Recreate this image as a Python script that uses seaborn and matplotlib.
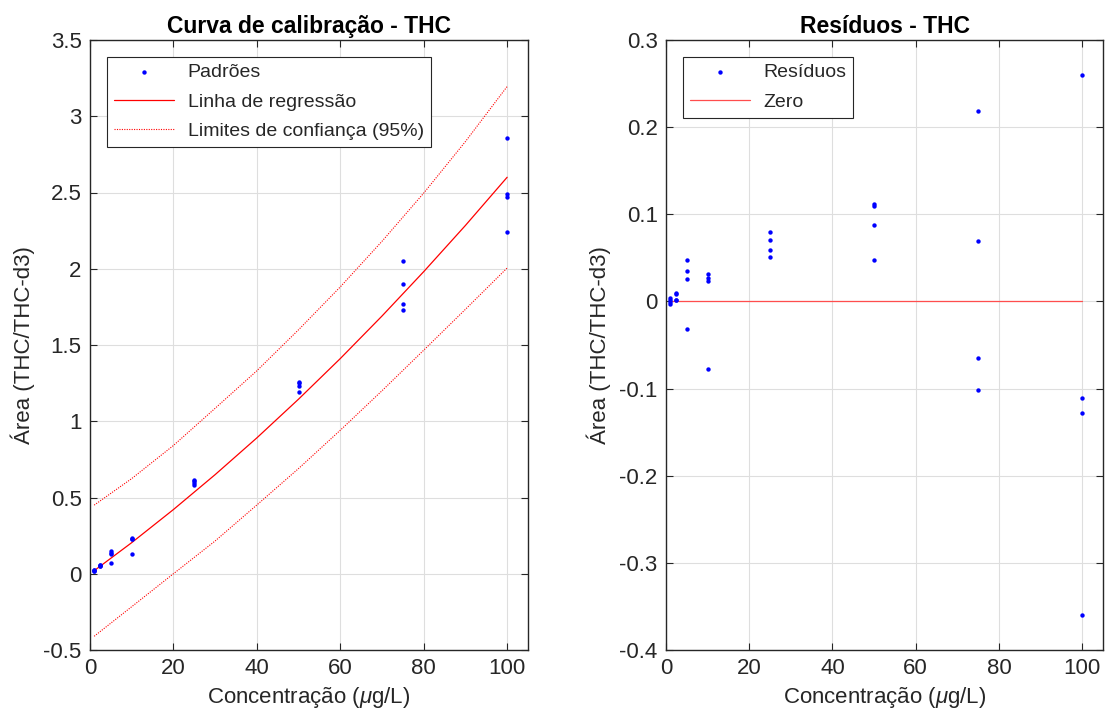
import numpy as np
import pandas as pd
import matplotlib
matplotlib.use("Agg")
import matplotlib.pyplot as plt
import seaborn as sns

# ---- data ----
conc_levels = [1, 2.5, 5, 10, 25, 50, 75, 100]
area_pts = [
    [0.024, 0.022, 0.019, 0.017],
    [0.060, 0.058, 0.052, 0.052],
    [0.148, 0.136, 0.127, 0.069],
    [0.236, 0.231, 0.228, 0.127],
    [0.614, 0.605, 0.593, 0.585],
    [1.257, 1.254, 1.233, 1.192],
    [2.052, 1.903, 1.769, 1.732],
    [2.860, 2.489, 2.472, 2.240],
]
resid_pts = [
    [0.004, 0.002, -0.001, -0.003],
    [0.010, 0.008, 0.002, 0.002],
    [0.047, 0.035, 0.026, -0.032],
    [0.032, 0.027, 0.024, -0.077],
    [0.080, 0.071, 0.059, 0.051],
    [0.112, 0.109, 0.088, 0.047],
    [0.218, 0.069, -0.065, -0.102],
    [0.260, -0.111, -0.128, -0.360],
]
curve_x = [1, 10, 20, 30, 40, 50, 60, 70, 80, 90, 100]
reg_fit = [0.020, 0.204, 0.421, 0.650, 0.891, 1.145, 1.411, 1.690, 1.981, 2.284, 2.600]
conf_upper = [0.450, 0.624, 0.841, 1.085, 1.331, 1.600, 1.881, 2.180, 2.496, 2.834, 3.195]
conf_lower = [-0.410, -0.216, 0.000, 0.215, 0.451, 0.690, 0.941, 1.200, 1.466, 1.734, 2.005]

left_yticks = [-0.5, 0, 0.5, 1, 1.5, 2, 2.5, 3, 3.5]
left_yticklabels = ["-0.5", "0", "0.5", "1", "1.5", "2", "2.5", "3", "3.5"]
right_yticks = [-0.4, -0.3, -0.2, -0.1, 0, 0.1, 0.2, 0.3]
right_yticklabels = ["-0.4", "-0.3", "-0.2", "-0.1", "0", "0.1", "0.2", "0.3"]
xticks = [0, 20, 40, 60, 80, 100]

# ---- build long tables ----
pts = pd.DataFrame({
    "conc": np.repeat(conc_levels, 4),
    "area": np.concatenate(area_pts),
    "resid": np.concatenate(resid_pts),
})
curves = pd.DataFrame({"x": curve_x, "fit": reg_fit, "up": conf_upper, "lo": conf_lower})
zero_df = pd.DataFrame({"x": [min(conc_levels), max(conc_levels)], "y": [0.0, 0.0]})

sns.set_style("whitegrid")
plt.rcParams["font.family"] = ["Liberation Sans", "DejaVu Sans"]
plt.rcParams["axes.unicode_minus"] = False
plt.rcParams["mathtext.fontset"] = "custom"
plt.rcParams["mathtext.it"] = "Liberation Sans:italic"
plt.rcParams["mathtext.rm"] = "Liberation Sans"
plt.rcParams["axes.axisbelow"] = True

fig = plt.figure(figsize=(11.09, 7.19), dpi=100)
W, H = 1109, 719
axL = fig.add_axes([90 / W, (H - 650) / H, 438 / W, 610 / H])
axR = fig.add_axes([666 / W, (H - 650) / H, 437 / W, 610 / H])

axc = "#262626"
FS = 16

def style(ax):
    ax.set_facecolor("white")
    ax.grid(True, color="#dedede", linewidth=0.8)
    for s in ax.spines.values():
        s.set_visible(True)
        s.set_color(axc)
        s.set_linewidth(1.0)
    ax.tick_params(direction="in", length=5, width=0.8, color=axc,
                   labelsize=FS, labelcolor=axc, top=True, right=True,
                   bottom=True, left=True, pad=6)
    ax.set_xlim(0, 105)
    ax.set_xticks(xticks)
    ax.set_xticklabels([str(t) for t in xticks])
    ax.set_xlabel(r"Concentração ($\mu$g/L)", fontsize=FS, color=axc, labelpad=4)
    ax.set_ylabel("Área (THC/THC-d3)", fontsize=FS, color=axc, labelpad=6)

leg_kw = dict(loc="upper left", bbox_to_anchor=(17 / 438, 1 - 17 / 610), borderaxespad=0,
              fontsize=14, frameon=True, fancybox=False, edgecolor=axc, framealpha=1,
              handlelength=3.1, borderpad=0.35, labelspacing=0.6, handletextpad=0.7)

# ---- left: calibration ----
sns.scatterplot(data=pts, x="conc", y="area", ax=axL, color=(0, 0, 1), marker="o",
                s=10, linewidth=0, label="Padrões", zorder=3)
sns.lineplot(data=curves, x="x", y="fit", ax=axL, color=(1, 0, 0), linewidth=0.9,
             label="Linha de regressão", zorder=2)
sns.lineplot(data=curves, x="x", y="up", ax=axL, color=(1, 0, 0), linewidth=0.8,
             linestyle=(0, (1, 1.2)), label="Limites de confiança (95%)", zorder=2)
sns.lineplot(data=curves, x="x", y="lo", ax=axL, color=(1, 0, 0), linewidth=0.8,
             linestyle=(0, (1, 1.2)), zorder=2)
style(axL)
axL.set_ylim(-0.5, 3.5)
axL.set_yticks(left_yticks)
axL.set_yticklabels(left_yticklabels)
axL.set_title("Curva de calibração - THC", fontsize=16.5, fontweight="bold", color="black", pad=5)
legL = axL.legend(**leg_kw)
legL.get_frame().set_linewidth(0.8)

# ---- right: residuals ----
sns.scatterplot(data=pts, x="conc", y="resid", ax=axR, color=(0, 0, 1), marker="o",
                s=10, linewidth=0, label="Resíduos", zorder=3)
sns.lineplot(data=zero_df, x="x", y="y", ax=axR, color=(1, 0.3, 0.3), linewidth=0.9,
             label="Zero", zorder=2.5)
style(axR)
axR.set_ylim(-0.4, 0.3)
axR.set_yticks(right_yticks)
axR.set_yticklabels(right_yticklabels)
axR.set_title("Resíduos - THC", fontsize=16.5, fontweight="bold", color="black", pad=5)
legR = axR.legend(**leg_kw)
legR.get_frame().set_linewidth(0.8)

fig.savefig("out.png", dpi=100, facecolor="white")
